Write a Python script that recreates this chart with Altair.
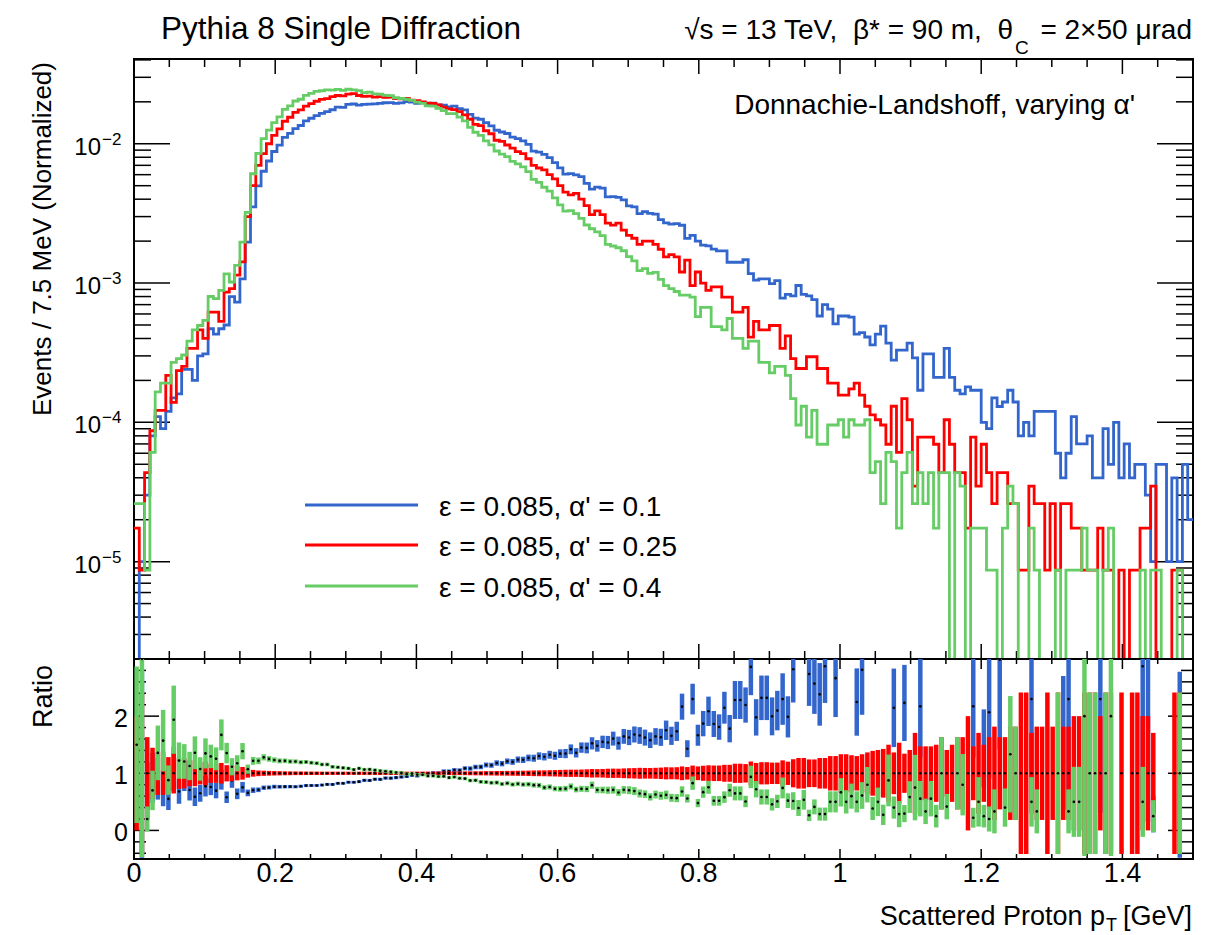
import altair as alt
import numpy as np
import pandas as pd

FONT = "Liberation Sans"
W = 1059
H_TOP = 600
H_RAT = 200
NB = "\u00a0"

BIN_WIDTH = 0.0075          # 7.5 MeV bins
X_DOMAIN = [0.0, 1.5]
Y_DOMAIN_TOP = [2.0e-6, 0.0406]
Y_DOMAIN_RATIO = [-0.5, 3.0]

# normalised weight of one event in each sample
BLUE_UNIT = 1.0e-5
RED_UNIT = 8.7e-6
GREEN_UNIT = 8.7e-6

# events per 7.5 MeV bin (200 bins, 0 - 1.5 GeV)
blue_counts = [
    0, 1, 3, 8, 11, 9, 12, 15, 16, 24,
    24, 20, 30, 31, 47, 43, 47, 50, 80, 73,
    107, 197, 352, 498, 635, 752, 880, 978, 1110, 1188,
    1285, 1352, 1460, 1525, 1590, 1652, 1700, 1755, 1830, 1822,
    1915, 1930, 1895, 1920, 1925, 1935, 1950, 1970, 1975, 1950,
    1965, 2005, 1990, 1950, 1972, 1930, 1960, 1905, 1895, 1840,
    1860, 1790, 1750, 1625, 1530, 1500, 1420, 1345, 1250, 1215,
    1185, 1115, 1090, 1050, 990, 885, 872, 838, 795, 732,
    672, 605, 610, 598, 580, 520, 472, 488, 480, 415,
    418, 412, 395, 358, 352, 315, 325, 316, 312, 285,
    270, 265, 267, 260, 209, 220, 200, 187, 185, 175,
    170, 170, 141, 141, 141, 147, 117, 105, 107, 107,
    99, 104, 78, 83, 81, 96, 83, 81, 76, 58,
    70, 65, 51, 58, 58, 57, 43, 44, 41, 36,
    43, 49, 37, 28, 33, 33, 37, 29, 17, 31,
    31, 21, 21, 34, 21, 17, 16, 18, 17, 17,
    10, 9, 15, 13, 14, 17, 14, 8, 10, 8,
    12, 12, 12, 12, 6, 4, 6, 11, 7, 7,
    8, 4, 4, 9, 5, 10, 4, 7, 4, 5,
    5, 3, 1, 5, 5, 1, 4, 1, 5, 2,
]
red_counts = [
    2, 1, 5, 10, 14, 14, 25, 16, 27, 29,
    39, 39, 53, 46, 71, 71, 61, 99, 105, 131,
    163, 345, 575, 805, 977, 1150, 1322, 1471, 1667, 1782,
    1931, 2011, 2138, 2230, 2322, 2391, 2425, 2506, 2552, 2540,
    2609, 2632, 2552, 2517, 2529, 2483, 2506, 2471, 2483, 2425,
    2414, 2437, 2368, 2345, 2299, 2253, 2241, 2184, 2103, 2046,
    2023, 1954, 1851, 1724, 1586, 1552, 1425, 1356, 1218, 1195,
    1126, 1069, 1011, 977, 897, 805, 770, 747, 690, 644,
    575, 517, 494, 506, 460, 414, 356, 379, 356, 310,
    299, 310, 276, 253, 241, 218, 230, 230, 218, 201,
    177, 184, 177, 138, 168, 110, 138, 115, 102, 108,
    108, 91, 91, 71, 71, 77, 47, 61, 53, 53,
    57, 57, 39, 48, 33, 28, 28, 34, 34, 28,
    28, 22, 22, 18, 18, 20, 22, 18, 15, 13,
    12, 11, 8, 15, 7, 17, 12, 4, 9, 9,
    9, 8, 5, 12, 8, 5, 5, 2, 9, 4,
    8, 5, 3, 5, 5, 3, 3, 1, 1, 4,
    3, 3, 1, 3, 1, 3, 3, 2, 2, 1,
    1, 1, 2, 1, 1, 0, 1, 0, 1, 1,
    2, 2, 4, 0, 0, 0, 1, 1, 0, 0,
]
green_counts = [
    3, 3, 1, 7, 19, 22, 22, 31, 33, 35,
    44, 53, 57, 62, 92, 89, 102, 134, 117, 154,
    226, 370, 700, 980, 1250, 1440, 1630, 1790, 2030, 2150,
    2330, 2400, 2560, 2640, 2730, 2760, 2800, 2790, 2820, 2780,
    2830, 2800, 2770, 2680, 2700, 2620, 2615, 2560, 2545, 2460,
    2430, 2400, 2355, 2290, 2240, 2150, 2140, 2060, 1990, 1890,
    1890, 1785, 1680, 1505, 1390, 1320, 1205, 1130, 1020, 970,
    930, 860, 825, 785, 725, 638, 608, 560, 525, 470,
    418, 378, 380, 362, 335, 300, 282, 268, 252, 218,
    212, 206, 196, 178, 166, 141, 146, 135, 137, 122,
    110, 105, 100, 94, 94, 91, 66, 77, 77, 56,
    56, 53, 64, 46, 46, 39, 44, 44, 31, 31,
    26, 29, 29, 25, 17, 11, 15, 9, 14, 8,
    8, 11, 11, 12, 9, 12, 11, 11, 12, 5,
    6, 3, 7, 6, 2, 5, 7, 3, 5, 3,
    5, 2, 5, 5, 0, 5, 4, 0, 2, 2,
    2, 1, 1, 0, 2, 4, 3, 0, 0, 2,
    1, 0, 0, 0, 1, 0, 1, 1, 1, 2,
    1, 1, 0, 1, 2, 0, 0, 0, 0, 0,
    1, 0, 1, 1, 0, 0, 0, 1, 0, 0,
]

series_labels = ["ε = 0.085, α' = 0.1", "ε = 0.085, α' = 0.25", "ε = 0.085, α' = 0.4"]
series_colors = ["#3366cc", "#ff0000", "#66cc66"]
series_units = [BLUE_UNIT, RED_UNIT, GREEN_UNIT]
series_counts = [blue_counts, red_counts, green_counts]

x_tick_values = [0.0, 0.2, 0.4, 0.6, 0.8, 1.0, 1.2, 1.4]
x_tick_labels = ["0", "0.2", "0.4", "0.6", "0.8", "1", "1.2", "1.4"]
y_decades = [1e-5, 1e-4, 1e-3, 1e-2]
y_decade_exponents = ["−5", "−4", "−3", "−2"]
ratio_label_values = [0, 1, 2]
ratio_labels = ["0", "1", "2"]

title_text = "Pythia 8 Single Diffraction"
cond_text_main = "√s = 13 TeV," + NB + " β* = 90 m," + NB + " θ"
cond_text_sub = "C"
cond_text_tail = "= 2×50 μrad"
model_text = "Donnachie-Landshoff, varying α'"
ytitle_top = "Events / 7.5 MeV (Normalized)"
ytitle_ratio = "Ratio"
xtitle_main = "Scattered Proton p"
xtitle_sub = "T"
xtitle_tail = "[GeV]"

xs = alt.Scale(domain=X_DOMAIN, nice=False, zero=False)
ys_top = alt.Scale(type="log", domain=Y_DOMAIN_TOP, nice=False)
ys_rat = alt.Scale(domain=Y_DOMAIN_RATIO, nice=False, zero=False)

TICK_W = 1.5


def xticks(values, y0, y1):
    return alt.Chart(pd.DataFrame({"t": values})).mark_rule(
        color="black", strokeWidth=TICK_W).encode(
        x=alt.X("t:Q", scale=xs, axis=None), y=alt.value(y0), y2=alt.value(y1))


def yticks(values, scale, x0, x1):
    return alt.Chart(pd.DataFrame({"v": values})).mark_rule(
        color="black", strokeWidth=TICK_W).encode(
        y=alt.Y("v:Q", scale=scale, axis=None), x=alt.value(x0), x2=alt.value(x1))


def text_at(txt, x, y, size, align="left", baseline="alphabetic", angle=0):
    return alt.Chart(pd.DataFrame({"t": [txt]})).mark_text(
        text=txt, font=FONT, fontSize=size, align=align, baseline=baseline,
        angle=angle, color="black").encode(x=alt.value(x), y=alt.value(y))


def step_chart(counts, unit, color):
    edges = [i * BIN_WIDTH for i in range(len(counts) + 1)]
    vals = [c * unit for c in counts] + [counts[-1] * unit]
    vals = [v if v > 0 else 1e-9 for v in vals]
    df = pd.DataFrame({"x": edges, "y": vals})
    return alt.Chart(df).mark_line(
        interpolate="step-after", color=color, strokeWidth=2.8, clip=True).encode(
        x=alt.X("x:Q", scale=xs, axis=None),
        y=alt.Y("y:Q", scale=ys_top, axis=None),
        order="x:Q")


def ratio_frame(counts, unit):
    xc, r, lo, hi = [], [], [], []
    for i, (c, d) in enumerate(zip(counts, red_counts)):
        if c <= 0 or d <= 0:
            continue
        q = (c * unit) / (d * RED_UNIT)
        # points whose central value falls outside the frame are not drawn
        if q < Y_DOMAIN_RATIO[0] or q > Y_DOMAIN_RATIO[1]:
            continue
        e = q * np.sqrt(1.0 / c + 1.0 / d)
        xc.append((i + 0.5) * BIN_WIDTH)
        r.append(q)
        lo.append(max(q - e, -2.0))
        hi.append(min(q + e, 5.0))
    return pd.DataFrame({"x": xc, "r": r, "lo": lo, "hi": hi})


# ---------------- top panel ----------------
major_x = x_tick_values
minor_x = [round(i * 0.05, 4) for i in range(31) if i % 4 != 0]
log_minor = [m * 10.0 ** e for e in range(-6, -1) for m in range(2, 10)
             if Y_DOMAIN_TOP[0] * 1.001 < m * 10.0 ** e < Y_DOMAIN_TOP[1]]

top_layers = [
    xticks(major_x, 0, 15), xticks(minor_x, 0, 8),
    xticks(major_x, H_TOP, H_TOP - 15), xticks(minor_x, H_TOP, H_TOP - 8),
    yticks(y_decades, ys_top, 0, 36), yticks(log_minor, ys_top, 0, 17),
    yticks(y_decades, ys_top, W, W - 36), yticks(log_minor, ys_top, W, W - 17),
]
for cnt, unit, col in zip(series_counts, series_units, series_colors):
    top_layers.append(step_chart(cnt, unit, col))

dec_df = pd.DataFrame({"v": y_decades, "e": y_decade_exponents})
top_layers.append(alt.Chart(dec_df).mark_text(
    text="10", font=FONT, fontSize=24, align="right", baseline="middle", dy=4).encode(
    y=alt.Y("v:Q", scale=ys_top, axis=None), x=alt.value(-33)))
top_layers.append(alt.Chart(dec_df).mark_text(
    font=FONT, fontSize=17, align="left", baseline="middle", dy=-4).encode(
    y=alt.Y("v:Q", scale=ys_top, axis=None), x=alt.value(-32), text="e:N"))

top_layers += [
    text_at(title_text, 207, -20, 31.5, align="center"),
    text_at(cond_text_main, 879, -20, 28, align="right"),
    text_at(cond_text_sub, 881, -5, 19, align="left"),
    text_at(cond_text_tail, 1058, -20, 28, align="right"),
    text_at(model_text, 1001, 55, 28, align="right"),
    text_at(ytitle_top, -83, 3, 26, align="right", angle=270),
]

legend_rows_y = [446, 486, 527]
for lab, col, ly in zip(series_labels, series_colors, legend_rows_y):
    top_layers.append(alt.Chart(pd.DataFrame({"a": [0]})).mark_rule(
        color=col, strokeWidth=3).encode(
        x=alt.value(171), x2=alt.value(284), y=alt.value(ly)))
    top_layers.append(text_at(lab, 305, ly + 11, 28, align="left"))

# invisible anchor fixing the page origin
top_layers.append(alt.Chart(pd.DataFrame({"a": [0]})).mark_rule(
    color="white", strokeWidth=1).encode(
    x=alt.value(-132), x2=alt.value(-131), y=alt.value(-57), y2=alt.value(-56)))

top = alt.layer(*top_layers).properties(width=W, height=H_TOP)

# ---------------- ratio panel ----------------
rat_major = [0, 1, 2]
rat_minor = [round(-0.4 + 0.2 * i, 1) for i in range(17)]
rat_minor = [v for v in rat_minor if abs(v - round(v)) > 1e-6]

rat_layers = [
    xticks(major_x, 0, 10), xticks(minor_x, 0, 5),
    xticks(major_x, H_RAT, H_RAT - 10), xticks(minor_x, H_RAT, H_RAT - 5),
    yticks(rat_major, ys_rat, 0, 25), yticks(rat_minor, ys_rat, 0, 12),
    yticks(rat_major, ys_rat, W, W - 25), yticks(rat_minor, ys_rat, W, W - 12),
]
for cnt, unit, col in zip(series_counts, series_units, series_colors):
    rdf = ratio_frame(cnt, unit)
    rat_layers.append(alt.Chart(rdf).mark_rule(
        color=col, strokeWidth=4.5, clip=True).encode(
        x=alt.X("x:Q", scale=xs, axis=None),
        y=alt.Y("lo:Q", scale=ys_rat, axis=None), y2="hi:Q"))
    rat_layers.append(alt.Chart(rdf).mark_circle(
        color="black", size=7, opacity=1, clip=True).encode(
        x=alt.X("x:Q", scale=xs, axis=None),
        y=alt.Y("r:Q", scale=ys_rat, axis=None)))

xl_df = pd.DataFrame({"t": x_tick_values, "lab": x_tick_labels})
rat_layers.append(alt.Chart(xl_df).mark_text(
    font=FONT, fontSize=27, align="center", baseline="alphabetic").encode(
    x=alt.X("t:Q", scale=xs, axis=None), y=alt.value(223), text="lab:N"))
yl_df = pd.DataFrame({"v": ratio_label_values, "lab": ratio_labels})
rat_layers.append(alt.Chart(yl_df).mark_text(
    font=FONT, fontSize=25, align="right", baseline="middle", dy=3).encode(
    y=alt.Y("v:Q", scale=ys_rat, axis=None), x=alt.value(-6), text="lab:N"))

rat_layers += [
    text_at(ytitle_ratio, -82, 6, 27, align="right", angle=270),
    text_at(xtitle_main, 971, 266, 27, align="right"),
    text_at(xtitle_sub, 972, 272, 18, align="left"),
    text_at(xtitle_tail, 1058, 266, 27, align="right"),
]

ratio = alt.layer(*rat_layers).properties(width=W, height=H_RAT)

chart = alt.vconcat(top, ratio, spacing=0, bounds="flush").properties(
    padding={"left": 0, "top": 0, "right": 0, "bottom": 0}
).configure_view(stroke="black", strokeWidth=2)

chart.save("out.html", embed_options={"renderer": "svg", "actions": False})
